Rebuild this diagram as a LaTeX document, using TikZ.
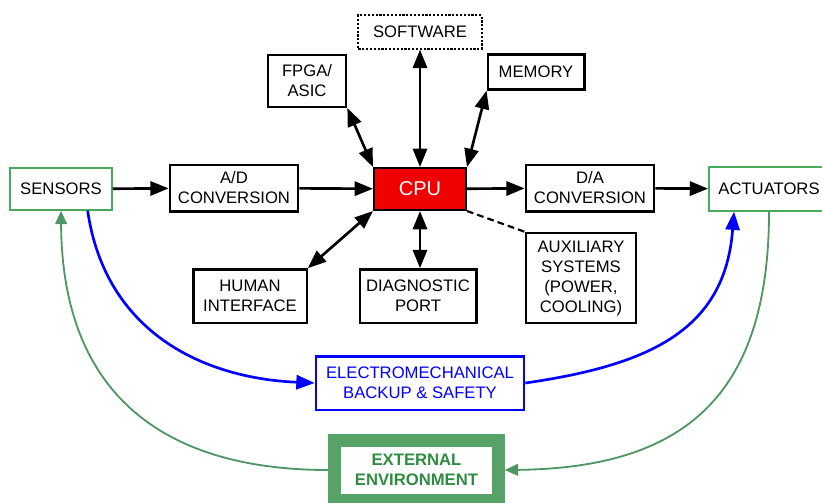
\documentclass[tikz,border=0pt]{standalone}
\usepackage{fontspec}
\setmainfont{Liberation Sans}
\usetikzlibrary{arrows.meta}
\definecolor{iogreen}{RGB}{70,170,90}
\definecolor{loopgreen}{RGB}{80,150,100}
\definecolor{envgreen}{RGB}{45,140,65}
\definecolor{cpured}{RGB}{240,0,0}
\begin{document}
\begin{tikzpicture}[x=0.6pt,y=-0.6pt,
  txt/.style={inner sep=0pt,align=center,font=\fontsize{10}{12}\selectfont},
  blk/.style={txt,draw,line width=1.4pt},
  io/.style={txt,draw=iogreen,line width=1.1pt},
  tip/.tip={Triangle[length=11pt,width=8.5pt]},
  link/.style={line width=1.6pt,-tip},
  both/.style={line width=1.6pt,tip-tip},
  backup/.style={blue,line width=1.6pt,-tip},
  loop/.style={loopgreen,line width=1.1pt,-{Triangle[length=8pt,width=7pt]}}]
  \useasboundingbox (0,0) rectangle (822,502);

  \node [io,minimum width=61pt,minimum height=25pt] (SEN) at (61,189) {SENSORS};
  \node [blk,minimum width=77pt,minimum height=28pt] (AD) at (234,188) {A/D\\CONVERSION};
  \node [blk,fill=cpured,text=white,font=\fontsize{12}{14}\selectfont,minimum width=55pt,minimum height=25pt] (CPU) at (420,189) {CPU};
  \node [blk,minimum width=77pt,minimum height=28pt] (DA) at (590,188) {D/A\\CONVERSION};
  \node [io,minimum width=72pt,minimum height=26pt] (ACT) at (769,189) {ACTUATORS};

  \node [txt,draw,line width=1.2pt,dash pattern=on 1.3pt off 1pt,minimum width=74pt,minimum height=20pt] (SW) at (420,32) {SOFTWARE};
  \node [blk,minimum width=47pt,minimum height=31pt] (FPGA) at (307,81) {FPGA/\\ASIC};
  \node [blk,minimum width=58pt,minimum height=21pt] (MEM) at (536,72) {MEMORY};

  \node [blk,minimum width=68pt,minimum height=32pt] (HMI) at (250,296) {HUMAN\\INTERFACE};
  \node [blk,minimum width=70pt,minimum height=32pt] (DIAG) at (418,296) {DIAGNOSTIC\\PORT};
  \node [blk,minimum width=66pt,minimum height=54pt] (AUX) at (581,278) {AUXILIARY\\SYSTEMS\\(POWER,\\COOLING)};

  \node [txt,draw=blue,text=blue,line width=1.4pt,minimum width=125pt,minimum height=32pt] (EMB) at (420,383) {ELECTROMECHANICAL\\BACKUP \& SAFETY};
  \node [txt,draw=envgreen!80!white,text=envgreen,line width=7.8pt,font=\fontsize{10}{12}\bfseries,minimum width=98pt,minimum height=36pt] (ENV) at (416.5,470) {EXTERNAL\\ENVIRONMENT};

  \draw [link] (SEN) -- (AD);
  \draw [link] (AD) -- (CPU);
  \draw [link] (CPU) -- (DA);
  \draw [link] (DA) -- (ACT);

  \draw [both] (FPGA.south east) -- (CPU.north west);
  \draw [both] (SW) -- (CPU);
  \draw [both] (MEM.south west) -- (CPU.north east);
  \draw [both] (HMI.north east) -- (CPU.south west);
  \draw [both] (DIAG.north -| CPU) -- (CPU);
  \draw [line width=1.3pt,dash pattern=on 4pt off 2.5pt] (CPU.south east) -- (AUX.north west);

  \draw [backup] ([xshift=16pt]SEN.south) .. controls (105,330) and (200,378) .. (EMB.west);
  \draw [backup] (EMB.east) .. controls (650,365) and (725,330) .. ([xshift=-21pt]ACT.south);

  \draw [loop] (ENV.west) .. controls (170,470) and (62,400) .. (SEN.south);
  \draw [loop] (ACT.south) .. controls (769,400) and (680,468) .. (ENV.east);
\end{tikzpicture}
\end{document}
